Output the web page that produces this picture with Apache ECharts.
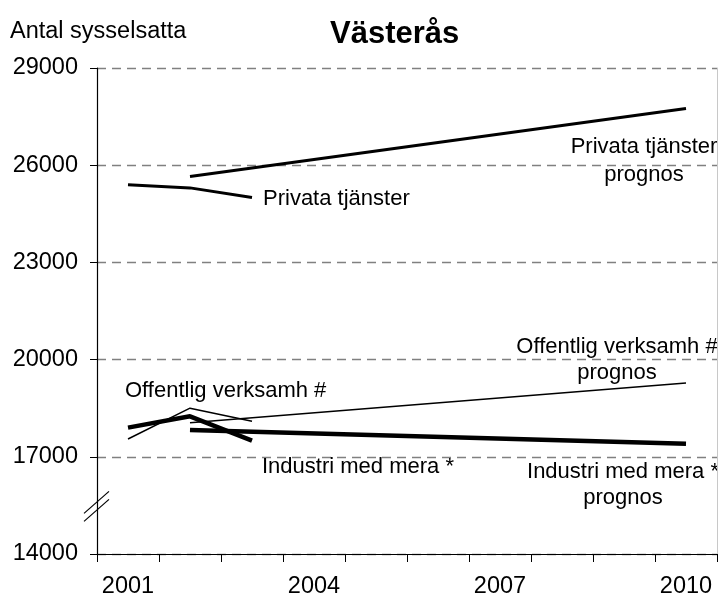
<!DOCTYPE html>
<html>
<head>
<meta charset="utf-8">
<script src="https://cdn.jsdelivr.net/npm/echarts@6/dist/echarts.min.js"></script>
<style>
  html, body { margin: 0; padding: 0; background: #fff; }
  #chart { width: 718px; height: 600px; }
</style>
</head>
<body>
<div id="chart"></div>
<script>
// years on x axis
const years = ['2001', '2002', '2003', '2004', '2005', '2006', '2007', '2008', '2009', '2010']
const yTicks = [14000, 17000, 20000, 23000, 26000, 29000]

// utfall
const privata = [25400, 25300, 25000, null, null, null, null, null, null, null]
const offentlig = [17550, 18500, 18100, null, null, null, null, null, null, null]
const industri = [17900, 18250, 17500, null, null, null, null, null, null, null]
// prognos (start och slut)
const privataPrognos = [null, 25650, null, null, null, null, null, null, null, 27750]
const offentligPrognos = [null, 18050, null, null, null, null, null, null, null, 19280]
const industriPrognos = [null, 17830, null, null, null, null, null, null, null, 17400]

const font = 'Liberation Sans, Arial, sans-serif'

function line(name, data, width) {
  return {
    name: name,
    type: 'line',
    data: data,
    showSymbol: false,
    connectNulls: true,
    lineStyle: { color: '#000', width: width },
    emphasis: { disabled: true }
  }
}

const myChart = echarts.init(document.getElementById('chart'))

const option = {
  animation: false,
  backgroundColor: '#fff',
  textStyle: { fontFamily: font },
  title: {
    text: 'Västerås',
    left: 325,
    top: 14,
    textStyle: { fontFamily: font, fontSize: 31, fontWeight: 'bold', color: '#000' }
  },
  grid: { left: 97, right: 1, top: 68, bottom: 46 },
  xAxis: {
    type: 'category',
    data: years,
    boundaryGap: true,
    axisLine: { lineStyle: { color: '#000', width: 1.2 } },
    axisTick: { show: true, interval: 0, length: 8, lineStyle: { color: '#000' } },
    axisLabel: { interval: 2, margin: 21, fontSize: 23.5, color: '#000', fontFamily: font }
  },
  yAxis: [{
    type: 'value',
    min: yTicks[0],
    max: yTicks[yTicks.length - 1],
    interval: 3000,
    axisLine: { show: true, lineStyle: { color: '#000', width: 1.2 } },
    axisTick: { show: true, length: 7, lineStyle: { color: '#000' } },
    axisLabel: { margin: 19, fontSize: 23.5, color: '#000', fontFamily: font, formatter: v => String(v) },
    splitLine: {
      show: true,
      lineStyle: { color: '#808080', type: [9, 6], width: 1.3 }
    }
  }, {
    type: 'value',
    position: 'right',
    min: yTicks[0],
    max: yTicks[yTicks.length - 1],
    interval: 3000,
    axisLine: { show: true, lineStyle: { color: '#c8c8c8', width: 1 } },
    axisTick: { show: false },
    axisLabel: { show: false },
    splitLine: { show: false }
  }],
  series: [
    line('Offentlig verksamh #', offentlig, 1.5),
    line('Offentlig verksamh # prognos', offentligPrognos, 1.5),
    line('Privata tjänster', privata, 3),
    line('Privata tjänster prognos', privataPrognos, 3),
    line('Industri med mera *', industri, 4.5),
    line('Industri med mera * prognos', industriPrognos, 4.5)
  ]
}

myChart.setOption(option)

// texter och axelbrytning
const txt = { fontFamily: font, fontSize: 22, fill: '#000' }
const axisX = myChart.convertToPixel({ xAxisIndex: 0 }, 0) - 31
const breakY = (myChart.convertToPixel({ yAxisIndex: 0 }, 17000) + myChart.convertToPixel({ yAxisIndex: 0 }, 14000)) / 2 + 3

myChart.setOption({
  graphic: [
    { type: 'text', x: 10, y: 32, style: Object.assign({}, txt, { text: 'Antal sysselsatta', fontSize: 23.5, textVerticalAlign: 'middle' }) },
    { type: 'text', x: 263, y: 199, style: Object.assign({}, txt, { text: 'Privata tjänster', textVerticalAlign: 'middle' }) },
    { type: 'text', x: 644, y: 161, style: Object.assign({}, txt, { text: 'Privata tjänster\nprognos', textAlign: 'center', textVerticalAlign: 'middle', lineHeight: 28 }) },
    { type: 'text', x: 125, y: 391, style: Object.assign({}, txt, { text: 'Offentlig verksamh #', textVerticalAlign: 'middle' }) },
    { type: 'text', x: 617, y: 360, style: Object.assign({}, txt, { text: 'Offentlig verksamh #\nprognos', textAlign: 'center', textVerticalAlign: 'middle', lineHeight: 26 }) },
    { type: 'text', x: 262, y: 467, style: Object.assign({}, txt, { text: 'Industri med mera *', textVerticalAlign: 'middle' }) },
    { type: 'text', x: 623, y: 485, style: Object.assign({}, txt, { text: 'Industri med mera *\nprognos', textAlign: 'center', textVerticalAlign: 'middle', lineHeight: 26 }) },
    { type: 'line', shape: { x1: axisX - 13, y1: breakY + 13, x2: axisX + 12, y2: breakY - 9 }, style: { stroke: '#000', lineWidth: 1.2 } },
    { type: 'line', shape: { x1: axisX - 13, y1: breakY + 5, x2: axisX + 12, y2: breakY - 17 }, style: { stroke: '#000', lineWidth: 1.2 } }
  ]
})

window.addEventListener('resize', () => myChart.resize())
</script>
</body>
</html>
